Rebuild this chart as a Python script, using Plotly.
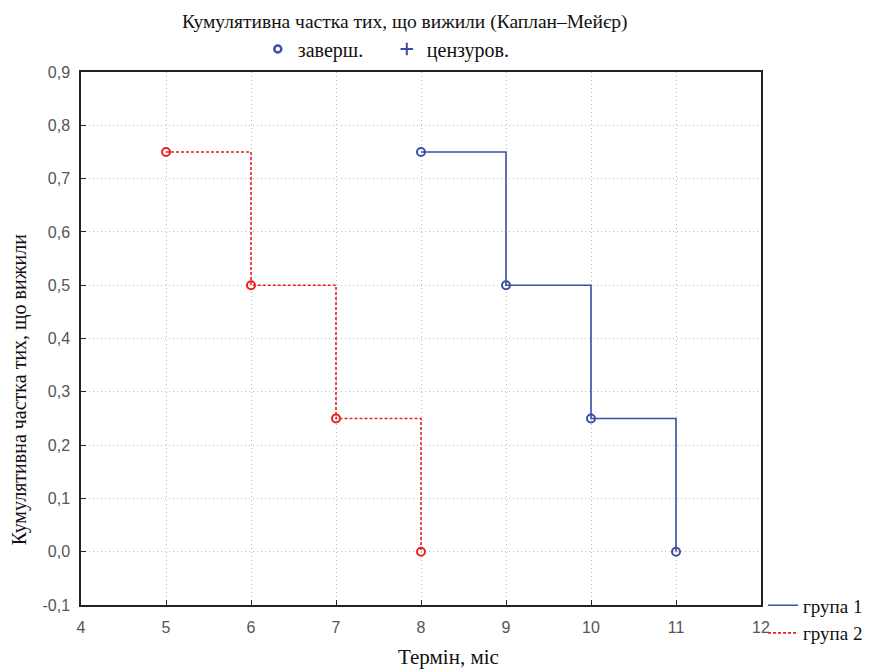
import plotly.graph_objects as go

# Data
g1_time = [8, 9, 10, 11]
g1_surv = [0.75, 0.5, 0.25, 0.0]
g2_time = [5, 6, 7, 8]
g2_surv = [0.75, 0.5, 0.25, 0.0]

x_ticks = [4, 5, 6, 7, 8, 9, 10, 11, 12]
y_ticks = [-0.1, 0.0, 0.1, 0.2, 0.3, 0.4, 0.5, 0.6, 0.7, 0.8, 0.9]
y_ticktext = ["-0,1", "0,0", "0,1", "0,2", "0,3", "0,4", "0,5", "0,6", "0,7", "0,8", "0,9"]

title = "Кумулятивна частка тих, що вижили (Каплан–Мейєр)"
x_title = "Термін, міс"
y_title = "Кумулятивна частка тих, що вижили"

BLUE = "#3c4ea6"
RED = "#e8221f"
SERIF = "Liberation Serif, Times New Roman, serif"
SANS = "Liberation Sans, Arial, sans-serif"

PW = 680.0  # plot width in px
PH = 533.0  # plot height in px

fig = go.Figure()

fig.add_trace(go.Scatter(
    x=g1_time, y=g1_surv, mode="lines+markers", line_shape="hv",
    line=dict(color=BLUE, width=1.6),
    marker=dict(symbol="circle-open", size=8, color=BLUE, line=dict(width=2)),
    name="група 1", legend="legend2", showlegend=False))
fig.add_trace(go.Scatter(
    x=g2_time, y=g2_surv, mode="lines+markers", line_shape="hv",
    line=dict(color=RED, width=1.6, dash="3px,2px"),
    marker=dict(symbol="circle-open", size=8, color=RED, line=dict(width=2)),
    name="група 2", legend="legend2", showlegend=False))

# legend entries (line styles)
fig.add_trace(go.Scatter(x=[None], y=[None], mode="lines",
                         line=dict(color=BLUE, width=1.6),
                         name="група 1", legend="legend2"))
fig.add_trace(go.Scatter(x=[None], y=[None], mode="lines",
                         line=dict(color=RED, width=1.6, dash="3px,2px"),
                         name="група 2", legend="legend2"))
# legend entries (marker types)
fig.add_trace(go.Scatter(x=[None], y=[None], mode="markers",
                         marker=dict(symbol="circle-open", size=7, color=BLUE, line=dict(width=2.5)),
                         name="заверш.", legend="legend"))
fig.add_trace(go.Scatter(x=[None], y=[None], mode="markers",
                         marker=dict(symbol="cross-thin", size=9, color=BLUE, line=dict(width=2, color=BLUE)),
                         name="цензуров.", legend="legend"))

fig.update_layout(
    width=864, height=661,
    margin=dict(l=73, r=111, t=64, b=64, pad=0, autoexpand=False),
    paper_bgcolor="white", plot_bgcolor="white",
    font=dict(family=SERIF, size=20, color="#111"),
    legend=dict(orientation="h", x=0.26, y=1 + 23 / PH, xanchor="left", yanchor="middle",
                font=dict(family=SERIF, size=20, color="#111"),
                itemwidth=30, entrywidth=84, tracegroupgap=0, bgcolor="rgba(0,0,0,0)"),
    legend2=dict(x=1.003, y=0.035, xanchor="left", yanchor="top",
                 font=dict(family=SERIF, size=19, color="#111"),
                 itemwidth=30, tracegroupgap=0, bgcolor="rgba(0,0,0,0)"),
    annotations=[
        dict(text=title, x=0.476, y=1 + 50 / PH, xref="paper", yref="paper",
             xanchor="center", yanchor="middle", showarrow=False,
             font=dict(family=SERIF, size=19.5, color="#111")),
        dict(text=x_title, xref="paper", yref="paper", x=0.541, y=-52 / PH,
             xanchor="center", yanchor="middle", showarrow=False,
             font=dict(family=SERIF, size=21, color="#111")),
        dict(text=y_title, xref="paper", yref="paper", x=-62 / PW, y=0.403,
             xanchor="center", yanchor="middle", textangle=-90, showarrow=False,
             font=dict(family=SERIF, size=20, color="#111")),
    ],
)

fig.update_xaxes(range=[4, 12], tickvals=x_ticks, ticktext=[str(v) for v in x_ticks],
                 showline=True, linecolor="#222", linewidth=1.5, mirror=True,
                 ticks="inside", ticklen=5, tickcolor="#222", ticklabelstandoff=7,
                 showgrid=True, gridcolor="#bdbdbd", griddash="1px,3px", gridwidth=1,
                 zeroline=False,
                 tickfont=dict(family=SANS, size=16, color="#555"))
fig.update_yaxes(range=[-0.1, 0.9], tickvals=y_ticks, ticktext=y_ticktext,
                 showline=True, linecolor="#222", linewidth=1.5, mirror=True,
                 ticks="inside", ticklen=5, tickcolor="#222", ticklabelstandoff=6,
                 showgrid=True, gridcolor="#bdbdbd", griddash="1px,3px", gridwidth=1,
                 zeroline=False,
                 tickfont=dict(family=SANS, size=16, color="#555"))

fig.write_html("out.html")
